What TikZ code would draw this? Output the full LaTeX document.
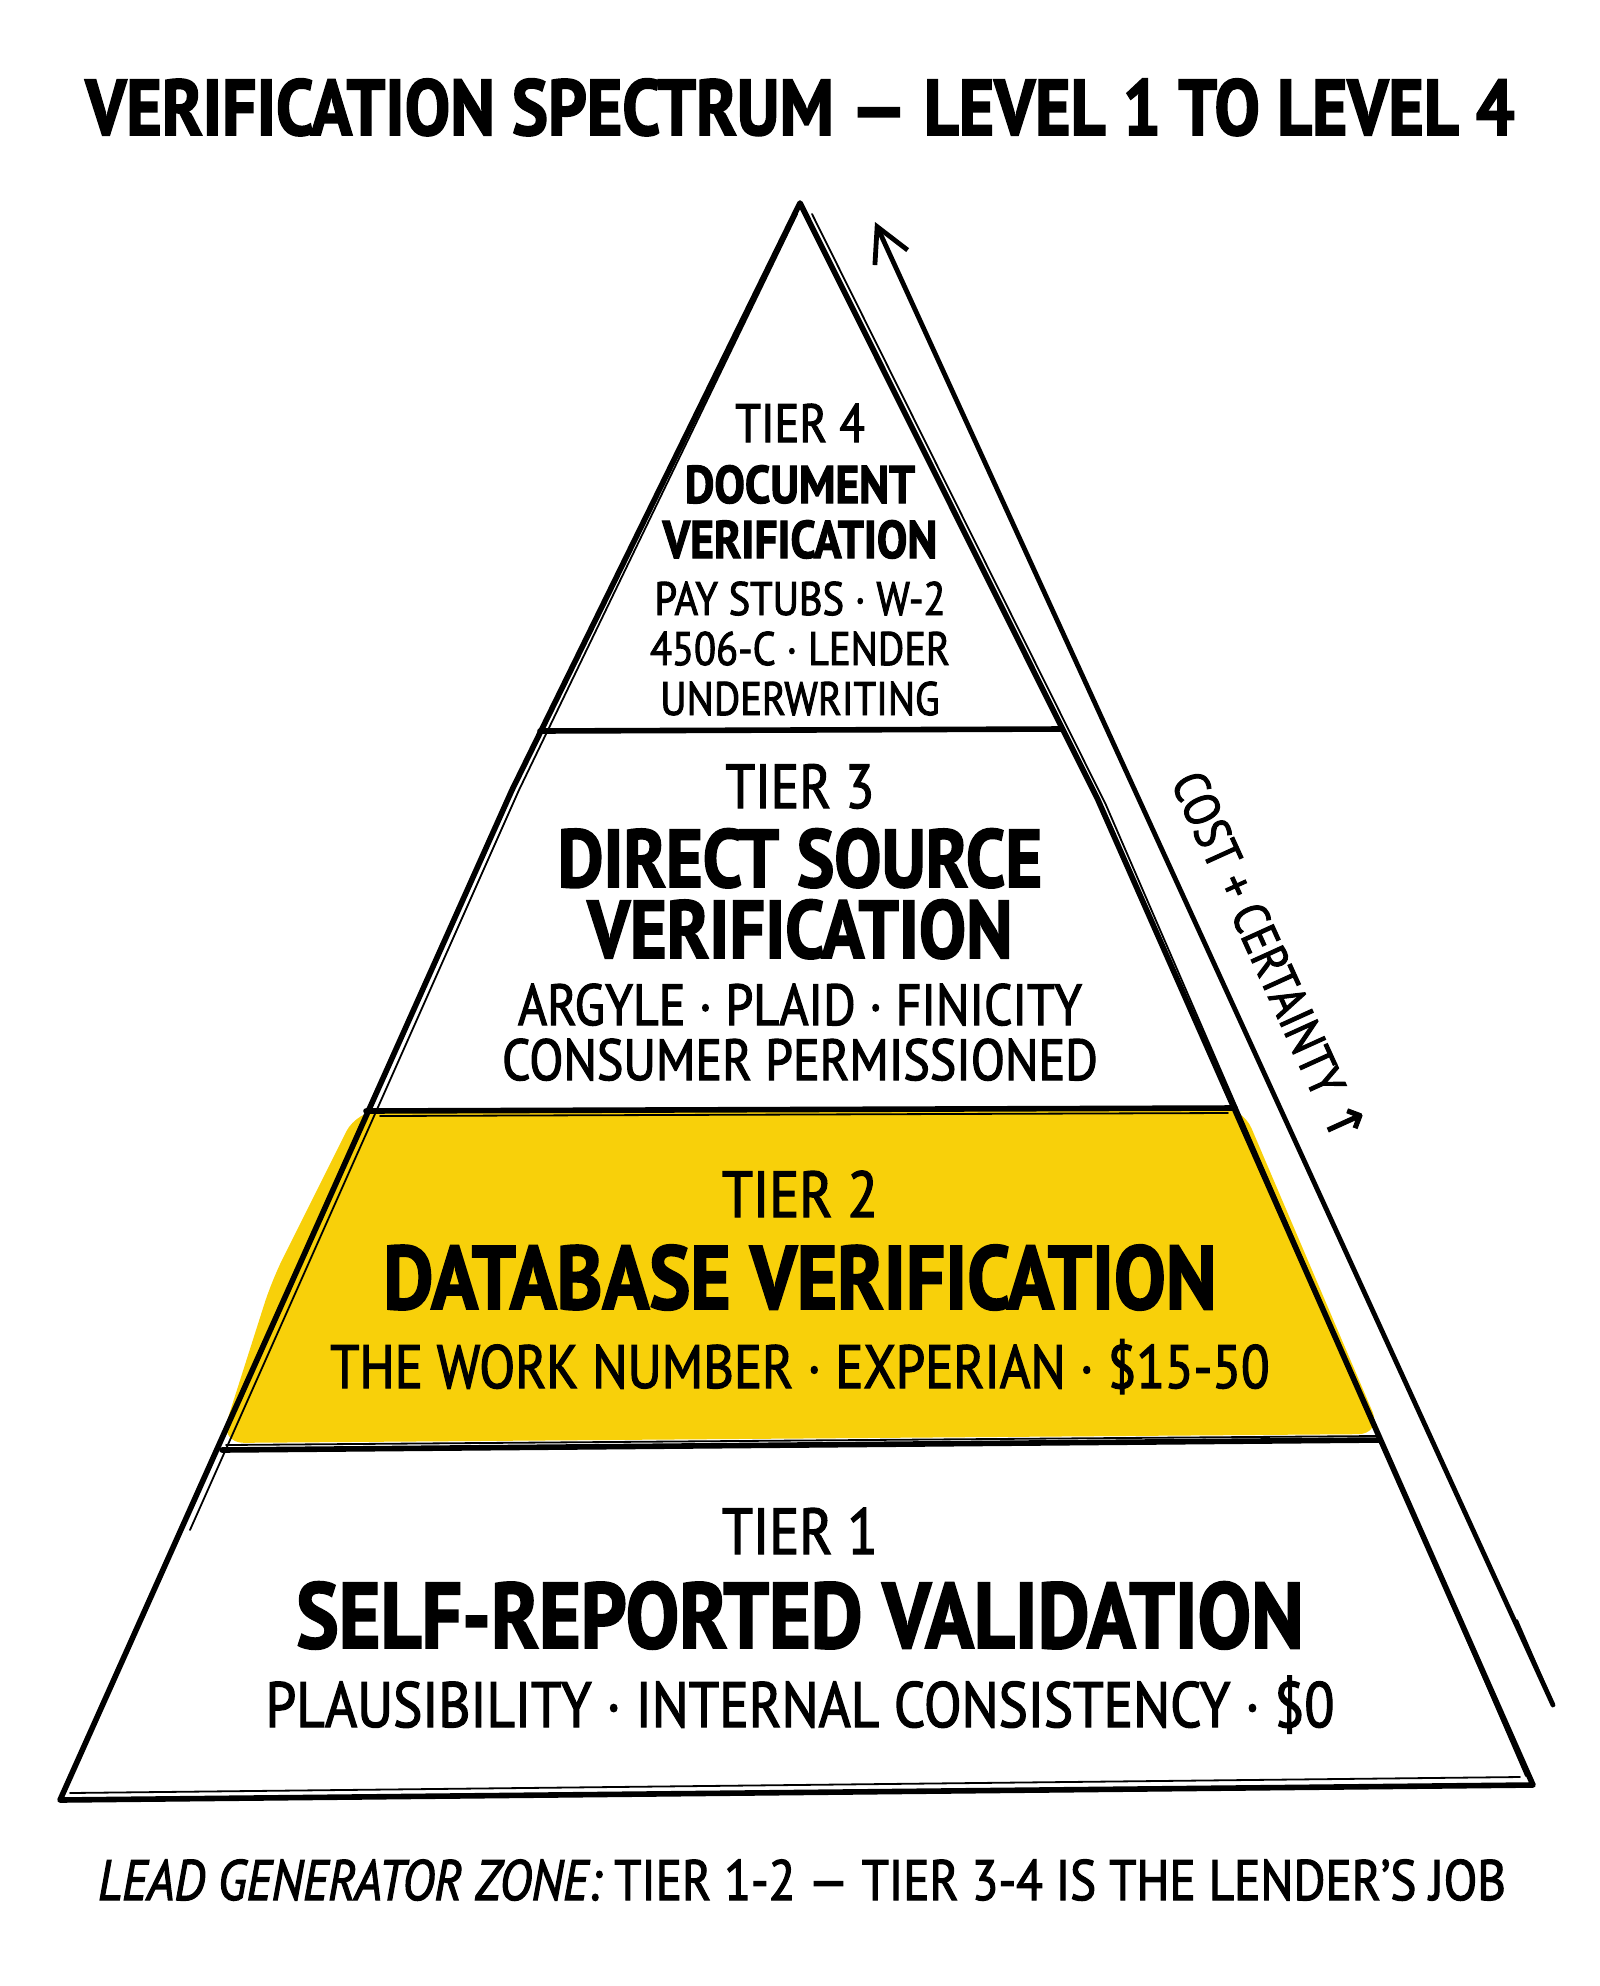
\documentclass[tikz,border=0pt]{standalone}
\usepackage{fontspec}
\setmainfont[FakeStretch=0.86,FakeBold=2]{PT Sans}
\newfontfamily\symbolfont[FakeBold=2]{DejaVu Sans}
\usetikzlibrary{arrows.meta}
\definecolor{tieryellow}{RGB}{248,208,10}
\newcommand{\setfs}[1]{\fontsize{#1}{#1}\selectfont}

\begin{document}
\begin{tikzpicture}[x=0.5pt,y=-0.5pt,
    outline/.style={line width=2.8pt,line cap=round,line join=round},
    sketchline/.style={line width=0.9pt,line cap=round},
    txt/.style={anchor=base,inner sep=0pt},
    tiernum/.style={txt,font=\setfs{31}},
    tiername/.style={txt,font=\setfs{41}\bfseries},
    tierinfo/.style={txt,font=\setfs{29}}]
  \useasboundingbox (0,0) rectangle (1600,1986);
  \coordinate (apex) at (800,203);
  \coordinate (leftbend) at (512,790);
  \coordinate (rightbend) at (1098,800);
  \coordinate (baseleft) at (60,1800);
  \coordinate (baseright) at (1533,1785);
  \coordinate (arrowtail) at (1553,1705);
  \coordinate (arrowtip) at (875,222);

  \fill[tieryellow,rounded corners=12pt] (357,1110) -- (1242,1106) -- (1382,1434)
    -- (220,1443) -- (272,1280) -- cycle;

  \draw[outline] (baseleft) -- (leftbend) -- (apex) -- (rightbend) -- (baseright) -- cycle;
  \draw[sketchline] (797,214) -- (519,790) -- (190,1530);
  \draw[sketchline] (812,214) -- (1106,805) -- (1526,1776);
  \draw[sketchline] (70,1793) -- (1520,1777);

  \draw[outline] (540,731) -- (1062,729);
  \draw[outline] (366,1111) -- (1235,1108);
  \draw[sketchline] (380,1116) -- (1228,1113);
  \draw[outline] (222,1450) -- (1380,1440);
  \draw[sketchline] (226,1445) -- (1376,1436);

  \draw[line width=2.4pt,line cap=round,-{Straight Barb[length=17pt,width=18pt,line width=2.4pt]}] (arrowtail) -- (arrowtip);
  \draw[sketchline] (1517,1620) -- (1553,1703);
  \node[txt,anchor=center,rotate=-65.6,font=\setfs{25}] (costlabel) at (1270,958)
    {COST + CERTAINTY {\symbolfont ↑}};

  \node[txt,font=\setfs{39.5}\bfseries] (title) at (800,135) {VERIFICATION SPECTRUM — LEVEL 1 TO LEVEL 4};

  \node[tiernum,font=\setfs{27}] (tierfour) at (800,442) {TIER 4};
  \node[tiername,font=\setfs{26.5}\bfseries] (tierfourtop) at (800,503) {DOCUMENT};
  \node[tiername,font=\setfs{26.5}\bfseries] (tierfourbottom) at (800,558) {VERIFICATION};
  \node[tierinfo,font=\setfs{23.5}] (tierfourinfoa) at (800,615) {PAY STUBS · W-2};
  \node[tierinfo,font=\setfs{23.5}] (tierfourinfob) at (800,665) {4506-C · LENDER};
  \node[tierinfo,font=\setfs{23.5}] (tierfourinfoc) at (800,715) {UNDERWRITING};

  \node[tiernum] (tierthree) at (800,808) {TIER 3};
  \node[tiername] (tierthreetop) at (800,887) {DIRECT SOURCE};
  \node[tiername] (tierthreebottom) at (800,958) {VERIFICATION};
  \node[tierinfo] (tierthreeinfoa) at (800,1025) {ARGYLE · PLAID · FINICITY};
  \node[tierinfo] (tierthreeinfob) at (800,1080) {CONSUMER PERMISSIONED};

  \node[tiernum,font=\setfs{32.5}] (tiertwo) at (800,1217) {TIER 2};
  \node[tiername,font=\setfs{45}\bfseries] (tiertwoname) at (800,1309) {DATABASE VERIFICATION};
  \node[tierinfo,font=\setfs{30.5}] (tiertwoinfo) at (800,1388) {THE WORK NUMBER · EXPERIAN · \$15-50};

  \node[tiernum,font=\setfs{32.5}] (tierone) at (800,1554) {TIER 1};
  \node[tiername,font=\setfs{46.5}\bfseries] (tieronename) at (800,1648) {SELF-REPORTED VALIDATION};
  \node[tierinfo,font=\setfs{32}] (tieroneinfo) at (800,1727) {PLAUSIBILITY · INTERNAL CONSISTENCY · \$0};

  \node[txt,font=\setfs{28.5}] (footer) at (802,1900)
    {{\itshape LEAD GENERATOR ZONE:} TIER 1-2 — TIER 3-4 IS THE LENDER’S JOB};
\end{tikzpicture}
\end{document}
